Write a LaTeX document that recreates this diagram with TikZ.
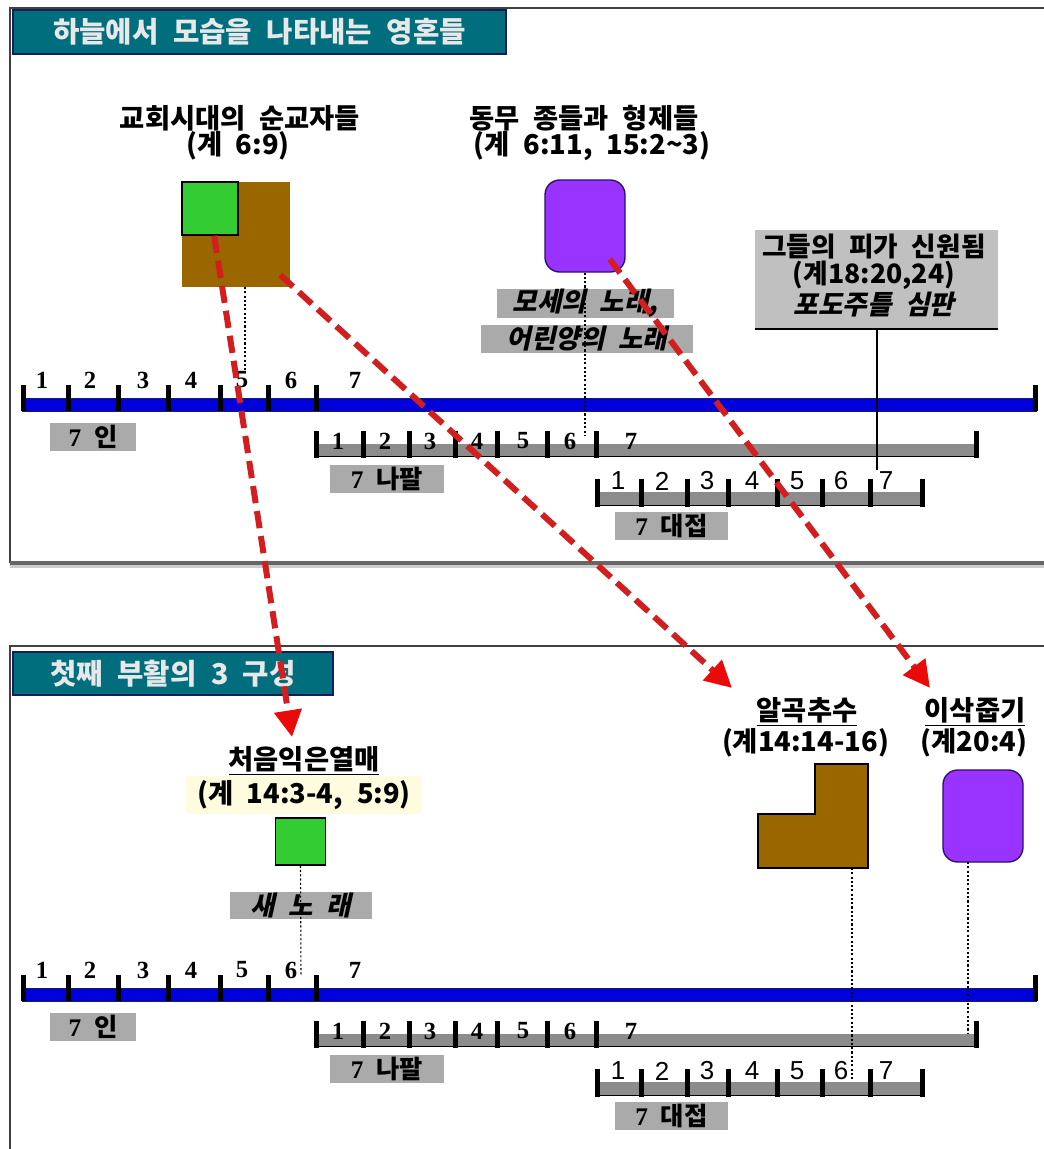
\documentclass[tikz,border=0pt]{standalone}
\usepackage{fontspec}
\usetikzlibrary{arrows.meta}
\newfontfamily\krf[WordSpace=2.2]{Noto Sans CJK KR}
\newfontfamily\krsl[WordSpace=2.2,FakeSlant=0.22]{Noto Sans CJK KR}
\newfontfamily\serf{Liberation Serif}
\newfontfamily\sanf{Liberation Sans}
\definecolor{teal1}{RGB}{0,110,125}
\definecolor{navy1}{RGB}{20,30,90}
\definecolor{brownf}{RGB}{153,102,0}
\definecolor{greenf}{RGB}{51,204,51}
\definecolor{purplef}{RGB}{153,51,255}
\definecolor{purpled}{RGB}{50,10,110}
\definecolor{bluebar}{RGB}{0,0,220}
\definecolor{greybar}{RGB}{140,140,140}
\definecolor{greylab}{RGB}{170,170,170}
\definecolor{greyjud}{RGB}{192,192,192}
\definecolor{reddash}{RGB}{210,30,30}
\definecolor{redtip}{RGB}{235,10,10}
\definecolor{paleyel}{RGB}{255,251,222}
\definecolor{titletxt}{RGB}{232,232,232}
\tikzset{
  titlebox/.style={draw=navy1, line width=0.8pt, fill=teal1, text=titletxt, inner sep=0pt,
    font=\krf\bfseries\fontsize{21.5}{21.5}\selectfont},
  lab/.style={inner sep=0pt, font=\krf\bfseries\fontsize{20.5}{20.5}\selectfont},
  jlab/.style={inner sep=0pt, font=\krf\bfseries\fontsize{20}{20}\selectfont},
  slab/.style={inner sep=0pt, font=\krsl\bfseries\fontsize{20}{20}\selectfont},
  glab/.style={fill=greylab, minimum height=21pt, inner sep=0pt, font=\krf\bfseries\fontsize{19}{19}\selectfont},
  songbox/.style={fill=greylab, inner sep=0pt, font=\krsl\bfseries\fontsize{20}{20}\selectfont},
  numA/.style={inner sep=0pt, font=\serf\bfseries\fontsize{18.5}{18.5}\selectfont},
  numB/.style={inner sep=0pt, font=\sanf\fontsize{19.5}{19.5}\selectfont},
  brownbox/.style={fill=brownf, inner sep=0pt},
  greenbox/.style={fill=greenf, draw=black, line width=1pt, inner sep=0pt},
  purplebox/.style={fill=purplef, draw=purpled, line width=1pt, rounded corners=11pt, inner sep=0pt,
    minimum width=60pt, minimum height=69pt},
  dotline/.style={draw=black, line width=0.8pt, dash pattern=on 1.6pt off 1.6pt},
  redarrow/.style={draw=reddash, line width=4.5pt, dash pattern=on 13pt off 6pt,
    -{Triangle[length=20pt,width=20pt,color=redtip]}},
}
\newcommand\tlset[2]{%
\begin{scope}[shift={(0,#1)}]
  \fill[bluebar] (22,398) rectangle (1037,411);
  \draw[line width=0.6pt, navy1] (22,398) -- (1037,398) (22,411) -- (1037,411);
  \foreach \x in {23,68,118,168,220,268,316,1035} {\fill[black] (\x-2.5,385) rectangle (\x+2.5,411);}
  \foreach \n/\x in {1/42,2/90,3/143,4/191,5/242,6/291,7/355} {\node[numA] (sa\n#2) at (\x,380) {\n};}
  \fill[greybar] (316,444) rectangle (978,457);
  \draw[line width=1.2pt] (316,456.5) -- (978,456.5);
  \foreach \x in {316,363,409,455,497,547,596,976} {\fill[black] (\x-2.5,431) rectangle (\x+2.5,458);}
  \foreach \n/\x in {1/338,2/385,3/430,4/477,5/523,6/570,7/631} {\node[numA] (sb\n#2) at (\x,441) {\n};}
  \fill[greybar] (597,492) rectangle (922,506);
  \draw[line width=1.2pt] (597,505.5) -- (922,505.5);
  \foreach \x in {597,641,687,728,777,822,870,922} {\fill[black] (\x-2.5,479) rectangle (\x+2.5,507);}
  \foreach \n/\x in {1/618,2/662,3/707,4/752,5/797,6/841,7/886} {\node[numB] (sc\n#2) at (\x,481) {\n};}
  \node[glab, minimum width=64.5pt] (seal#2) at (93,437) {{\serf 7} 인};
  \node[glab, minimum width=85.5pt] (trumpet#2) at (387,479) {{\serf 7} 나팔};
  \node[glab, minimum width=84.75pt] (bowl#2) at (671.5,526) {{\serf 7} 대접};
\end{scope}}
\begin{document}
\begin{tikzpicture}[x=0.75pt,y=-0.75pt]
\useasboundingbox (0,0) rectangle (1044,1149);
\fill[white] (0,0) rectangle (1044,1149);
% panels
\fill[black!20] (10,563) rectangle (1044,568);
\draw[line width=1.5pt, black!75] (10,563) -- (10,8) -- (1044,8);
\draw[line width=2.5pt, black!60] (10,563) -- (1044,563);
\draw[line width=1.5pt, black!75] (10,1149) -- (10,646) -- (1044,646);
% titles
\node[titlebox, minimum width=369.75pt, minimum height=33pt] (title1) at (259.5,32) {하늘에서 모습을 나타내는 영혼들};
\node[titlebox, minimum width=240pt, minimum height=32.25pt] (title2) at (173,673.5) {첫째 부활의 3 구성};
% timelines
\tlset{0}{a}
\tlset{590}{b}
% top section
\node[lab] (mart1) at (240,118) {교회시대의 순교자들};
\node[lab] (mart2) at (238,146) {(계 6:9)};
\node[lab] (comp1) at (584,118) {동무 종들과 형제들};
\node[lab] (comp2) at (592,146) {(계 6:11, 15:2\textasciitilde 3)};
\node[brownbox, minimum width=81pt, minimum height=78.75pt] (brownsq) at (236,234.5) {};
\node[greenbox, minimum width=42pt, minimum height=39.75pt] (greensq) at (210,208.5) {};
\node[purplebox] (souls) at (585,226) {};
\node[songbox, minimum width=132.75pt, minimum height=20.25pt] (song1) at (585.5,303.5) {모세의 노래,};
\node[songbox, minimum width=159pt, minimum height=21pt] (song2) at (587,339) {어린양의 노래};
\node[fill=greyjud, inner sep=0pt, minimum width=182.25pt, minimum height=74.25pt] (judg) at (876.5,279.5) {};
\node[jlab] (judg1) at (874,247) {그들의 피가 신원됨};
\node[jlab] (judg2) at (874,275) {(계18:20,24)};
\node[slab] (judg3) at (874,305) {포도주틀 심판};
\draw[line width=1.5pt] (judg.south west) -- (judg.south east);
\coordinate (j7) at (877,470);
\draw[line width=0.8pt] (judg.south -| j7) -- (j7);
\coordinate (d1s) at (245,287);
\coordinate (d1e) at (245,370);
\draw[dotline] (d1s) -- (d1e);
\coordinate (d2e) at (585,436);
\draw[dotline] (souls.south) -- (d2e);
% bottom section
\node[lab] (fruit1) at (304,761) {\underline{처음익은열매}};
\node[lab, fill=paleyel, inner xsep=8pt, inner ysep=3pt] (fruit2) at (304,795) {(계 14:3-4, 5:9)};
\node[greenbox, minimum width=37.5pt, minimum height=35.25pt] (greenb) at (300.5,841.5) {};
\node[songbox, minimum width=106.5pt, minimum height=20.25pt] (newsong) at (301,905.5) {새 노 래};
\node[lab] (harv1) at (807,712) {\underline{알곡추수}};
\node[lab] (harv2) at (805.5,743) {(계14:14-16)};
\node[lab] (glean1) at (975,712) {\underline{이삭줍기}};
\node[lab] (glean2) at (974,743) {(계20:4)};
\draw[fill=brownf, line width=1pt] (758,814) -- (815,814) -- (815,764) -- (868,764) -- (868,868) -- (758,868) -- cycle;
\node[purplebox] (soulsb) at (983,816) {};
\coordinate (d3e) at (301,975);
\draw[dotline] (greenb.south) -- (d3e);
\coordinate (Lb) at (852,868);
\coordinate (d4e) at (852,1080);
\draw[dotline] (Lb) -- (d4e);
\coordinate (d5s) at (968,862);
\coordinate (d5e) at (968,1033);
\draw[dotline] (d5s) -- (d5e);
% red arrows
\coordinate (tip1) at (292,737);
\coordinate (tip2) at (732,688);
\coordinate (tip3) at (930,688);
\draw[redarrow] (greensq) -- (tip1);
\draw[redarrow, shorten <=45pt] (brownsq.center) -- (tip2);
\draw[redarrow, shorten <=31pt] (souls.center) -- (tip3);
\end{tikzpicture}
\end{document}
